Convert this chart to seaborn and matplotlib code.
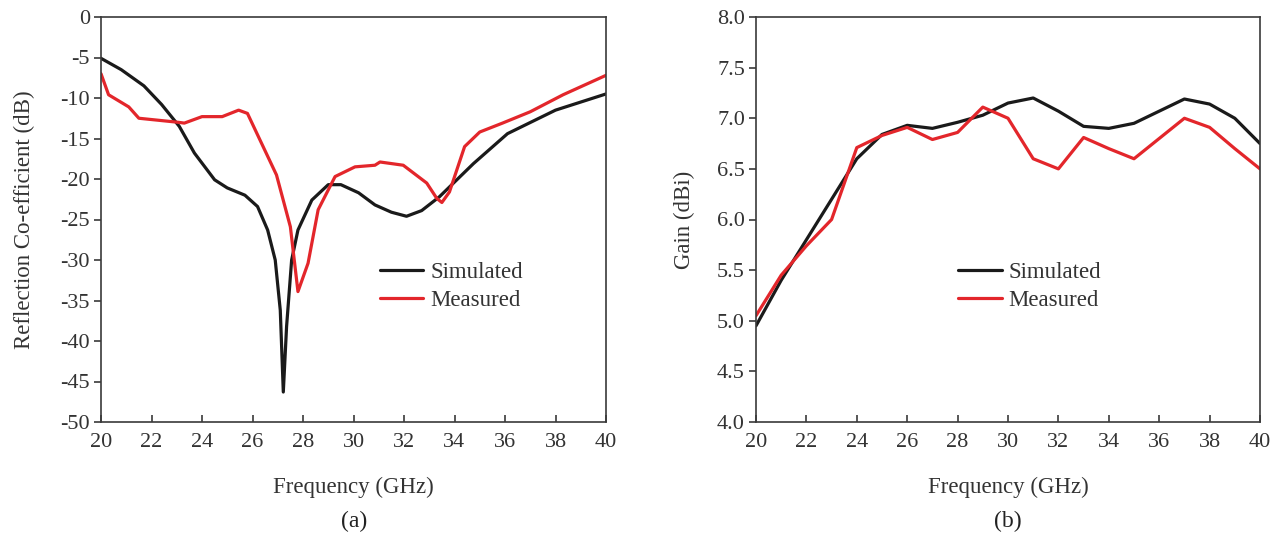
import numpy as np
import pandas as pd
import matplotlib
matplotlib.use("Agg")
import matplotlib.pyplot as plt
import seaborn as sns

# ---- data: reflection coefficient (a) ----
freq_sim_a = [20, 20.8, 21.7, 22.4, 23.1, 23.7, 24.5, 25.0, 25.7, 26.2, 26.6, 26.9,
              27.1, 27.22, 27.35, 27.55, 27.8, 28.35, 29.0, 29.5, 30.2, 30.85, 31.5,
              32.1, 32.7, 33.4, 34.75, 36.1, 38.0, 40.0]
s11_sim = [-5.1, -6.5, -8.5, -10.8, -13.5, -16.8, -20.1, -21.1, -22.0, -23.4, -26.3, -30.0,
           -36.2, -46.3, -38.2, -30.0, -26.3, -22.6, -20.7, -20.7, -21.7, -23.2, -24.1,
           -24.6, -23.9, -22.2, -18.1, -14.4, -11.5, -9.5]

freq_meas_a = [20, 20.3, 21.1, 21.5, 23.06, 23.3, 24.0, 24.8, 25.45, 25.8, 26.95, 27.5,
               27.8, 28.2, 28.6, 29.27, 30.06, 30.85, 31.05, 31.97, 32.9, 33.3, 33.5,
               33.8, 34.4, 35.0, 35.9, 37.0, 38.3, 40.0]
s11_meas = [-7.0, -9.6, -11.1, -12.5, -13.0, -13.1, -12.3, -12.3, -11.5, -11.9, -19.5, -25.9,
            -33.9, -30.4, -23.8, -19.7, -18.5, -18.3, -17.9, -18.3, -20.5, -22.4, -22.9,
            -21.6, -16.0, -14.2, -13.1, -11.7, -9.6, -7.2]

# ---- data: gain (b) ----
freq_b = list(range(20, 41))
gain_sim = [4.95, 5.4, 5.8, 6.2, 6.6, 6.84, 6.93, 6.90, 6.96, 7.03, 7.15, 7.2, 7.07,
            6.92, 6.90, 6.95, 7.07, 7.19, 7.14, 7.0, 6.75]
gain_meas = [5.05, 5.45, 5.74, 6.0, 6.71, 6.83, 6.91, 6.79, 6.86, 7.11, 7.0, 6.6, 6.5,
             6.81, 6.7, 6.6, 6.8, 7.0, 6.91, 6.7, 6.5]

series_labels = ["Simulated", "Measured"]
xticks = list(range(20, 41, 2))
yticks_a = list(range(0, -51, -5))
yticks_b = [4.0, 4.5, 5.0, 5.5, 6.0, 6.5, 7.0, 7.5, 8.0]

sns.set_style("ticks")
plt.rcParams["font.family"] = ["Liberation Serif", "DejaVu Serif"]
text_col = "#333333"
spine_col = "#3a3a3a"
palette = {"Simulated": "#1a1a1a", "Measured": "#e3262b"}

df_a = pd.concat([
    pd.DataFrame({"f": freq_sim_a, "v": s11_sim, "s": series_labels[0]}),
    pd.DataFrame({"f": freq_meas_a, "v": s11_meas, "s": series_labels[1]}),
])
df_b = pd.concat([
    pd.DataFrame({"f": freq_b, "v": gain_sim, "s": series_labels[0]}),
    pd.DataFrame({"f": freq_b, "v": gain_meas, "s": series_labels[1]}),
])

fig = plt.figure(figsize=(12.83, 5.35), dpi=100)
ax1 = fig.add_axes([101/1283, 1-422/535, 505/1283, 405/535])
ax2 = fig.add_axes([756/1283, 1-422/535, 504/1283, 405/535])

for ax, df in ((ax1, df_a), (ax2, df_b)):
    sns.lineplot(data=df, x="f", y="v", hue="s", palette=palette, sort=False,
                 estimator=None, lw=2.3, ax=ax)
    ax.set_xlim(20, 40)
    ax.set_xticks(xticks)
    for sp in ax.spines.values():
        sp.set_visible(True)
        sp.set_color(spine_col)
        sp.set_linewidth(1.2)
    ax.tick_params(axis="x", direction="in", length=5, width=1.2, color=spine_col,
                   labelsize=16, labelcolor=text_col, pad=8)
    ax.tick_params(axis="y", direction="out", length=5, width=1.2, color=spine_col,
                   labelsize=16, labelcolor=text_col, pad=3)
    ax.set_xlabel("Frequency (GHz)", fontsize=16.5, color=text_col, labelpad=18)
    leg = ax.legend(frameon=False, fontsize=16.5, handlelength=1.9, handletextpad=0.3,
                    labelspacing=0.3, borderpad=0, borderaxespad=0, loc="upper left")
    for t in leg.get_texts():
        t.set_color(text_col)

ax1.set_ylim(-50, 0)
ax1.set_yticks(yticks_a)
ax1.set_yticklabels([str(v) for v in yticks_a])
ax1.set_ylabel("Reflection Co-efficient (dB)", fontsize=16.5, color=text_col, labelpad=18)
ax1.legend_.set_bbox_to_anchor((0.552, 0.395))

ax2.set_ylim(4.0, 8.0)
ax2.set_yticks(yticks_b)
ax2.set_yticklabels([f"{v:.1f}" for v in yticks_b])
ax2.set_ylabel("Gain (dBi)", fontsize=16.5, color=text_col, labelpad=16)
ax2.legend_.set_bbox_to_anchor((0.401, 0.395))

fig.text(354/1283, 1-521/535, "(a)", ha="center", va="center", fontsize=17, color="#222222")
fig.text(1008/1283, 1-521/535, "(b)", ha="center", va="center", fontsize=17, color="#222222")

fig.savefig("out.png", dpi=100, facecolor="white")
